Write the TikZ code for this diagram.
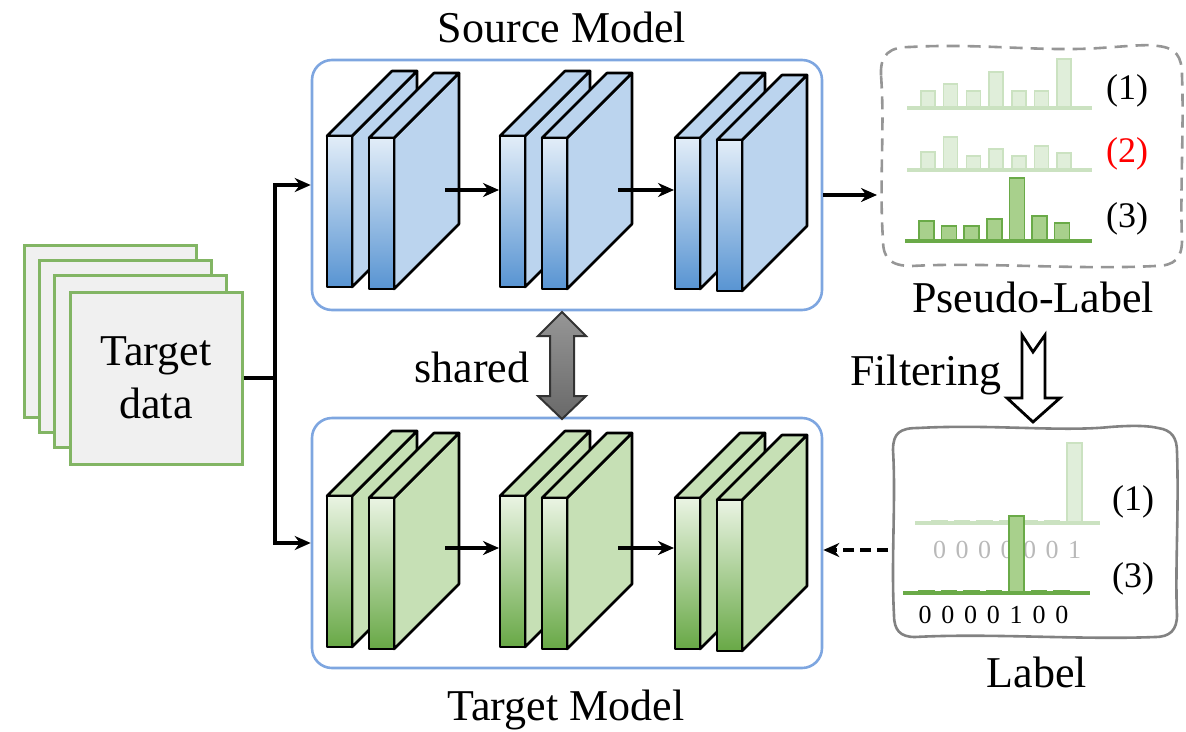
\documentclass[tikz,border=0pt]{standalone}
\usepackage{fontspec}
\setmainfont{Liberation Serif}
\usetikzlibrary{arrows.meta}
\definecolor{bluebd}{RGB}{126,166,224}
\definecolor{blueside}{RGB}{187,212,238}
\definecolor{bluetop}{RGB}{226,237,248}
\definecolor{bluebot}{RGB}{88,148,210}
\definecolor{greenside}{RGB}{198,224,181}
\definecolor{greentop}{RGB}{234,244,227}
\definecolor{greenbot}{RGB}{104,168,70}
\definecolor{databd}{RGB}{130,181,100}
\definecolor{datafill}{RGB}{240,240,240}
\definecolor{lightbar}{RGB}{224,238,218}
\definecolor{lightbd}{RGB}{203,226,193}
\definecolor{darkbar}{RGB}{168,208,140}
\definecolor{darkbd}{RGB}{106,170,72}
\definecolor{pseudobd}{RGB}{150,150,150}
\definecolor{labelbd}{RGB}{130,130,130}
\definecolor{digitgray}{RGB}{185,185,185}
\definecolor{sharetop}{RGB}{150,150,150}
\definecolor{sharebot}{RGB}{105,105,105}

\newcommand{\slab}[5]{%
  \filldraw[fill=#3,slabline] (#1+25,#2) -- (#1+90,#2-65) -- (#1+90,#2+86) -- (#1+25,#2+151) -- cycle;
  \filldraw[fill=#3,slabline] (#1,#2) -- (#1+65,#2-65) -- (#1+90,#2-65) -- (#1+25,#2) -- cycle;
  \shade[top color=#4,bottom color=#5] (#1,#2) rectangle (#1+25,#2+151);
  \draw[slabline] (#1,#2) rectangle (#1+25,#2+151);
}
\newcommand{\slabpair}[5]{%
  \slab{#1}{#2}{#3}{#4}{#5}
  \slab{#1+42}{#2+2}{#3}{#4}{#5}
}

\begin{document}
\begin{tikzpicture}[x=1pt,y=-1pt,
  slabline/.style={draw=black,line width=2.6pt,line join=round},
  modelbox/.style={draw=bluebd,line width=2.6pt,rounded corners=20pt,minimum width=510pt,minimum height=250pt,inner sep=0pt},
  datarect/.style={draw=databd,fill=datafill,line width=3pt,minimum width=172pt,minimum height=172pt,inner sep=0pt},
  bigtxt/.style={font=\fontsize{44}{53}\selectfont,inner sep=0pt},
  numtxt/.style={font=\fontsize{36}{40}\selectfont,inner sep=0pt},
  digtxt/.style={font=\fontsize{26}{30}\selectfont,inner sep=0pt,anchor=base},
  conn/.style={line width=4pt},
  arr/.style={line width=4pt,-{Stealth[length=16pt,width=14pt]}},
  dasharr/.style={line width=3.5pt,dash pattern=on 11pt off 6pt,-{Stealth[length=16pt,width=14pt]}},
  lightbars/.style={fill=lightbar,draw=lightbd,line width=1.5pt},
  darkbars/.style={fill=darkbar,draw=darkbd,line width=1.5pt},
  lightbase/.style={draw=lightbd,line width=3.5pt},
  darkbase/.style={draw=darkbd,line width=3.5pt},
]
\useasboundingbox (0,0) rectangle (1186,731);

% ---------- target data stack ----------
\node[datarect] (d1) at (110,331) {};
\node[datarect] (d2) at (125,346) {};
\node[datarect] (d3) at (140,361) {};
\node[datarect,bigtxt,align=center] (d4) at (156,378) {Target\\data};

% ---------- model boxes ----------
\node[modelbox] (src) at (567,185) {};
\node[modelbox] (tgt) at (567,543) {};
\node[bigtxt,anchor=base] (srcTitle) at (562,42) {Source Model};
\node[bigtxt,anchor=base] (tgtTitle) at (566,720) {Target Model};

% ---------- layers ----------
\slabpair{327}{136}{blueside}{bluetop}{bluebot}
\slabpair{500}{136}{blueside}{bluetop}{bluebot}
\slabpair{675}{138}{blueside}{bluetop}{bluebot}
\slabpair{327}{496}{greenside}{greentop}{greenbot}
\slabpair{500}{496}{greenside}{greentop}{greenbot}
\slabpair{675}{498}{greenside}{greentop}{greenbot}

\coordinate (s1o) at (445,190); \coordinate (s2i) at (499,190);
\coordinate (s2o) at (618,190); \coordinate (s3i) at (674,190);
\coordinate (t1o) at (445,548); \coordinate (t2i) at (499,548);
\coordinate (t2o) at (618,548); \coordinate (t3i) at (674,548);
\draw[arr] (s1o) -- (s2i);
\draw[arr] (s2o) -- (s3i);
\draw[arr] (t1o) -- (t2i);
\draw[arr] (t2o) -- (t3i);

% ---------- input connectors ----------
\coordinate (j) at (275,378);
\draw[conn] (d4.east) -- (j);
\draw[arr] (j) |- (src.west);
\draw[arr] (j) |- (tgt.west);

% ---------- shared arrow ----------
\shade[top color=sharetop,bottom color=sharebot,draw=black!80,line width=2pt,line join=miter]
  (562,312) -- (586,336) -- (574,336) -- (574,396) -- (586,396) -- (562,419)
  -- (538,396) -- (550,396) -- (550,336) -- (538,336) -- cycle;
\node[bigtxt,anchor=base] (shared) at (472,382) {shared};

% ---------- pseudo-label box ----------
\draw[pseudobd,line width=2.6pt,dash pattern=on 13pt off 8pt]
  (881,75) .. controls (880,54) and (890,47) .. (910,47)
  .. controls (980,43) and (1040,52) .. (1100,48)
  .. controls (1130,46) and (1148,44) .. (1158,46)
  .. controls (1176,48) and (1182,56) .. (1182,76)
  .. controls (1184,130) and (1180,190) .. (1182,240)
  .. controls (1182,258) and (1175,266) .. (1155,266)
  .. controls (1080,270) and (980,262) .. (912,266)
  .. controls (890,266) and (883,258) .. (883,240)
  .. controls (879,180) and (885,130) .. (881,75) -- cycle;
\coordinate (pl) at (877,195);
\draw[arr] (src.east |- pl) -- (pl);

% row 1
\foreach \h [count=\i from 0] in {17,24,17,36,17,17,49}
  \filldraw[lightbars] (921+\i*22.7,108) rectangle +(14,-\h);
\draw[lightbase] (907,108) -- (1092,108);
% row 2
\foreach \h [count=\i from 0] in {18,33,14,21,14,24,17}
  \filldraw[lightbars] (921+\i*22.7,170) rectangle +(14,-\h);
\draw[lightbase] (907,170) -- (1092,170);
% row 3
\foreach \h [count=\i from 0] in {20,15,15,22,63,25,18}
  \filldraw[darkbars] (919+\i*22.6,241) rectangle +(15,-\h);
\draw[darkbase] (905,241) -- (1092,241);

\node[numtxt,anchor=base] (p1) at (1127,99) {(1)};
\node[numtxt,anchor=base,text=red] (p2) at (1127,162) {(2)};
\node[numtxt,anchor=base] (p3) at (1127,227) {(3)};
\node[bigtxt,anchor=base] (pseudo) at (1033,312) {Pseudo-Label};

% ---------- filtering arrow ----------
\draw[line width=2.8pt,fill=white,line join=miter]
  (1022,335) -- (1033,352) -- (1045,335) -- (1045,398) -- (1060,398) -- (1033,422)
  -- (1007,398) -- (1022,398) -- cycle;
\node[bigtxt,anchor=base] (filter) at (926,385) {Filtering};

% ---------- label box ----------
\draw[labelbd,line width=2.6pt]
  (893,450) .. controls (893,433) and (900,428) .. (918,428)
  .. controls (990,424) and (1060,432) .. (1110,427)
  .. controls (1135,425) and (1150,426) .. (1158,428)
  .. controls (1172,430) and (1177,438) .. (1177,452)
  .. controls (1179,510) and (1175,570) .. (1177,615)
  .. controls (1177,630) and (1170,637) .. (1155,637)
  .. controls (1080,640) and (990,633) .. (915,637)
  .. controls (900,637) and (894,630) .. (894,615)
  .. controls (891,560) and (896,500) .. (893,450) -- cycle;

% label row 1
\foreach \h [count=\i from 0] in {2,2,2,2,2,2,80}
  \filldraw[lightbars] (932+\i*22.5,523) rectangle +(15,-\h);
\draw[lightbase] (915,523) -- (1100,523);
\foreach \d [count=\i from 0] in {0,0,0,0,0,0,1}
  \node[digtxt,text=digitgray] (ga\i) at (939.5+\i*22.5,558) {\d};
% label row 3
\foreach \h [count=\i from 0] in {2,2,2,2,77,2,2}
  \filldraw[darkbars] (919+\i*22.5,593) rectangle +(15,-\h);
\draw[darkbase] (903,593) -- (1090,593);
\foreach \d [count=\i from 0] in {0,0,0,0,1,0,0}
  \node[digtxt] (gb\i) at (925+\i*22.8,623) {\d};

\node[numtxt,anchor=base] (l1) at (1133,510) {(1)};
\node[numtxt,anchor=base] (l3) at (1133,587) {(3)};
\node[bigtxt,anchor=base] (lbl) at (1037,687) {Label};

\coordinate (lblin) at (888,550);
\draw[dasharr] (lblin) -- (tgt.east |- lblin);
\end{tikzpicture}
\end{document}
